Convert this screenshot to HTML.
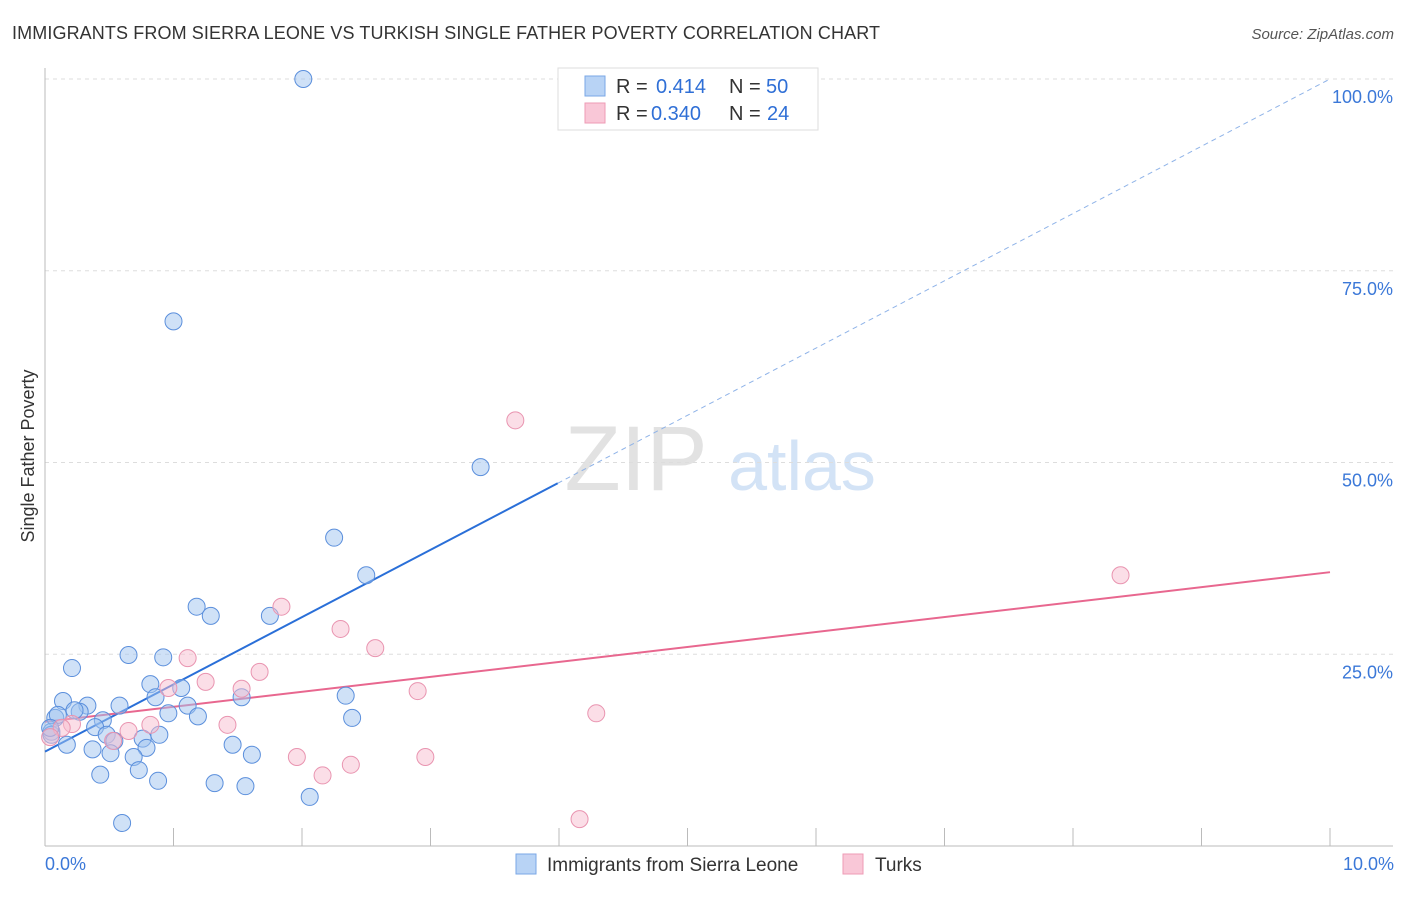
<!DOCTYPE html>
<html><head><meta charset="utf-8">
<style>
body{margin:0;background:#fff;font-family:"Liberation Sans",sans-serif;}
svg text{font-family:"Liberation Sans",sans-serif;}
</style></head>
<body>
<svg id="chart" width="1406" height="892">
<text x="12" y="39" font-size="18" fill="#333" textLength="868">IMMIGRANTS FROM SIERRA LEONE VS TURKISH SINGLE FATHER POVERTY CORRELATION CHART</text>
<text x="1394" y="39" font-size="15" fill="#555" font-style="italic" text-anchor="end">Source: ZipAtlas.com</text>
<text x="34" y="456" font-size="18" fill="#333" transform="rotate(-90 34 456)" text-anchor="middle">Single Father Poverty</text>
<g>
<text x="636" y="490" font-size="92" fill="#e2e2e2" font-family="Liberation Serif" text-anchor="middle">ZIP</text>
<text x="802" y="490" font-size="70" fill="#d3e3f6" text-anchor="middle">atlas</text>
</g>
<g id="grid"></g>
<g id="lines"></g>
<g id="points"></g>
<g>
<rect x="558" y="68" width="260" height="62" fill="#fff" stroke="#ddd"/>
<rect x="585" y="76" width="20" height="20" fill="#b8d3f5" stroke="#7aa7e6"/>
<rect x="585" y="103" width="20" height="20" fill="#f9c7d7" stroke="#ee9bb5"/>
<text x="616" y="93" font-size="20" fill="#333">R =</text>
<text x="656" y="93" font-size="20" fill="#2f6fd6">0.414</text>
<text x="729" y="93" font-size="20" fill="#333">N =</text>
<text x="766" y="93" font-size="20" fill="#2f6fd6">50</text>
<text x="616" y="120" font-size="20" fill="#333">R =</text>
<text x="651" y="120" font-size="20" fill="#2f6fd6">0.340</text>
<text x="729" y="120" font-size="20" fill="#333">N =</text>
<text x="767" y="120" font-size="20" fill="#2f6fd6">24</text>
</g>
<g>
<rect x="516" y="854" width="20" height="20" fill="#b8d3f5" stroke="#7aa7e6"/>
<text x="547" y="871" font-size="19" fill="#333">Immigrants from Sierra Leone</text>
<rect x="843" y="854" width="20" height="20" fill="#f9c7d7" stroke="#ee9bb5"/>
<text x="875" y="871" font-size="19" fill="#333">Turks</text>
</g>
<text x="45" y="870" font-size="18" fill="#3b78d8">0.0%</text>
<text x="1394" y="870" font-size="18" fill="#3b78d8" text-anchor="end">10.0%</text>
</svg>
<script>
const yTicks=[25,50,75,100];
const yTickLabels=["25.0%","50.0%","75.0%","100.0%"];
const xTicks=[0,1,2,3,4,5,6,7,8,9,10];
const blueX=[2.01,1.00,3.39,2.25,2.50,1.18,1.29,1.75,0.65,0.92,0.21,0.82,1.06,0.86,2.34,1.53,0.14,0.33,0.58,1.11,0.27,0.96,1.19,0.08,0.45,2.39,0.39,0.05,0.48,0.76,0.54,0.17,1.46,0.37,0.79,0.51,1.61,0.69,0.73,0.43,0.88,1.32,1.56,2.06,0.60,0.05,0.10,0.23,0.89,0.04];
const blueY=[100,68.4,49.4,40.2,35.3,31.2,30.0,30.0,24.9,24.6,23.2,21.1,20.6,19.4,19.6,19.4,18.9,18.3,18.3,18.3,17.5,17.3,16.9,16.7,16.4,16.7,15.5,14.9,14.5,14.0,13.7,13.2,13.2,12.6,12.8,12.1,11.9,11.6,9.9,9.3,8.5,8.2,7.8,6.4,3.0,14.5,17.1,17.7,14.5,15.4];
const pinkX=[3.66,8.37,1.84,2.30,2.57,1.11,1.67,1.25,1.53,0.96,2.90,4.29,0.82,1.42,0.21,0.65,0.13,0.53,1.96,2.96,2.38,2.16,4.16,0.04];
const pinkY=[55.5,35.3,31.2,28.3,25.8,24.5,22.7,21.4,20.5,20.6,20.2,17.3,15.8,15.8,15.9,15.0,15.4,13.7,11.6,11.6,10.6,9.2,3.5,14.2];
const blueTrend=[12.3,100];
const pinkTrend=[16.2,35.7];
const NS="http://www.w3.org/2000/svg";
const sx=v=>45+v*128.5;
const sy=v=>846-v*7.67;
function mk(tag,attrs,parent){const e=document.createElementNS(NS,tag);for(const k in attrs)e.setAttribute(k,attrs[k]);parent.appendChild(e);return e;}
const grid=document.getElementById('grid');
yTicks.forEach((t,i)=>{
  const l=mk('line',{x1:45,x2:1393,y1:sy(t),y2:sy(t),stroke:'#ddd','stroke-dasharray':'4,4'},grid);
  
  
  const tx=mk('text',{x:1393,y:sy(t)+24,'font-size':18,fill:'#3b78d8','text-anchor':'end'},grid);
  tx.textContent=yTickLabels[i];
  
  
});
const ax=mk('line',{x1:45,x2:45,y1:68,y2:846,stroke:'#bbb'},grid);


const bx=mk('line',{x1:45,x2:1393,y1:846,y2:846,stroke:'#bbb'},grid);


xTicks.forEach(t=>{
  const l=mk('line',{x1:sx(t),x2:sx(t),y1:828,y2:846,stroke:'#bbb'},grid);
  
  
});
const lines=document.getElementById('lines');
const b1=mk('line',{x1:sx(0),y1:sy(blueTrend[0]),x2:sx(3.99),y2:sy(blueTrend[0]+(blueTrend[1]-blueTrend[0])*0.399),stroke:'#2a6fd8','stroke-width':2},lines);


const b2=mk('line',{x1:sx(3.99),y1:sy(blueTrend[0]+(blueTrend[1]-blueTrend[0])*0.399),x2:sx(10),y2:sy(blueTrend[1]),stroke:'#8fb3e8','stroke-width':1,'stroke-dasharray':'5,4'},lines);


const p1=mk('line',{x1:sx(0),y1:sy(pinkTrend[0]),x2:sx(10),y2:sy(pinkTrend[1]),stroke:'#e8678f','stroke-width':2},lines);


const pts=document.getElementById('points');
blueX.forEach((x,i)=>{
  const c=mk('circle',{cx:sx(x),cy:sy(blueY[i]),r:8.5,fill:'rgba(160,195,240,0.5)',stroke:'#5b8fdc','stroke-width':1},pts);
  
  
});
pinkX.forEach((x,i)=>{
  const c=mk('circle',{cx:sx(x),cy:sy(pinkY[i]),r:8.5,fill:'rgba(248,190,208,0.5)',stroke:'#e994b0','stroke-width':1},pts);
  
  
});
</script>
</body></html>
